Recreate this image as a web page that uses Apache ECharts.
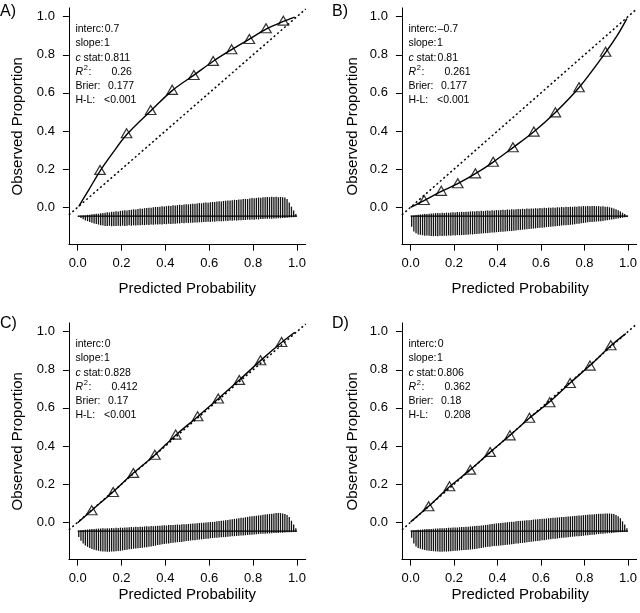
<!DOCTYPE html>
<html><head><meta charset="utf-8">
<script src="https://cdn.jsdelivr.net/npm/echarts@6/dist/echarts.min.js"></script>
<style>html,body{margin:0;padding:0;background:#fff}#c{width:640px;height:613px}</style>
</head><body><div id="c"></div>
<script>
// ---------------- DATA ----------------
const xTicks = [0, 0.2, 0.4, 0.6, 0.8, 1.0];
const yTicks = [0, 0.2, 0.4, 0.6, 0.8, 1.0];
const xTitle = 'Predicted Probability';
const yTitle = 'Observed Proportion';
const panelLetters = ['A)', 'B)', 'C)', 'D)'];
const statLabels = ['interc:', 'slope:', 'c stat:', 'R2:', 'Brier:', 'H-L:'];
const statsA = ['0.7', '1', '0.811', '0.26', '0.177', '<0.001'];
const statsB = ['\u20130.7', '1', '0.81', '0.261', '0.177', '<0.001'];
const statsC = ['0', '1', '0.828', '0.412', '0.17', '<0.001'];
const statsD = ['0', '1', '0.806', '0.362', '0.18', '0.208'];

// grouped observed proportions (triangles)
const groupA_x = [0.102, 0.223, 0.333, 0.431, 0.530, 0.618, 0.702, 0.783, 0.859, 0.938];
const groupA_y = [0.196, 0.388, 0.510, 0.616, 0.694, 0.768, 0.829, 0.883, 0.939, 0.979];
const groupB_x = [0.062, 0.141, 0.217, 0.298, 0.380, 0.471, 0.567, 0.666, 0.775, 0.897];
const groupB_y = [0.038, 0.086, 0.126, 0.178, 0.239, 0.315, 0.397, 0.498, 0.630, 0.816];
const groupC_x = [0.064, 0.162, 0.254, 0.352, 0.447, 0.547, 0.641, 0.737, 0.834, 0.930];
const groupC_y = [0.063, 0.159, 0.259, 0.354, 0.460, 0.556, 0.649, 0.747, 0.850, 0.946];
const groupD_x = [0.083, 0.179, 0.275, 0.366, 0.457, 0.547, 0.640, 0.734, 0.825, 0.921];
const groupD_y = [0.084, 0.189, 0.276, 0.369, 0.456, 0.548, 0.630, 0.731, 0.822, 0.929];

// smoothed (lowess) calibration curves
const curveA_x = [0.005, 0.05, 0.102, 0.16, 0.223, 0.333, 0.431, 0.530, 0.618, 0.702, 0.783, 0.859, 0.938, 0.99];
const curveA_y = [0.005, 0.09, 0.190, 0.285, 0.380, 0.505, 0.612, 0.693, 0.766, 0.827, 0.882, 0.935, 0.975, 0.998];
const curveB_x = [0.0, 0.062, 0.141, 0.217, 0.298, 0.380, 0.471, 0.567, 0.666, 0.775, 0.897, 0.95, 0.995];
const curveB_y = [0.0, 0.035, 0.083, 0.124, 0.176, 0.237, 0.313, 0.396, 0.497, 0.628, 0.812, 0.90, 0.990];
const curveC_x = [0.0, 0.064, 0.162, 0.254, 0.352, 0.447, 0.547, 0.641, 0.737, 0.834, 0.930, 0.99];
const curveC_y = [-0.003, 0.062, 0.160, 0.258, 0.353, 0.457, 0.554, 0.648, 0.746, 0.848, 0.943, 0.997];
const curveD_x = [0.0, 0.083, 0.179, 0.275, 0.366, 0.457, 0.547, 0.640, 0.734, 0.825, 0.921, 0.99];
const curveD_y = [0.002, 0.084, 0.186, 0.276, 0.368, 0.456, 0.547, 0.632, 0.731, 0.822, 0.926, 0.99];

// identity reference line
const diagX = [-0.04, 1.04];

// spike histogram of predicted risks (bins of width 0.01 from 0 to 1)
const binWidth = 0.01;
const spikeBase = -0.047;
const baselineX = [0, 1];
const spikeUpA = [0,.002,.004,.004,.007,.008,.010,.011,.013,.013, .016,.017,.018,.021,.020,.023,.024,.026,.025,.028,
 .029,.031,.030,.033,.034,.036,.035,.038,.040,.039, .042,.043,.045,.044,.047,.049,.048,.050,.052,.051,
 .053,.055,.054,.057,.056,.058,.060,.059,.061,.063, .062,.064,.066,.065,.067,.069,.068,.070,.072,.071,
 .073,.075,.074,.077,.078,.077,.080,.081,.083,.082, .084,.086,.085,.088,.087,.090,.091,.090,.093,.095,
 .094,.096,.098,.097,.099,.100,.101,.100,.102,.101, .102,.100,.101,.099,.098,.090,.072,.050,.030,.012];
const spikeDownA = [.004,.010,.016,.022,.026,.030,.034,.038,.041,.044, .047,.049,.051,.052,.050,.053,.051,.052,.050,.052,
 .049,.051,.050,.048,.050,.048,.049,.047,.048,.046, .047,.045,.046,.044,.045,.043,.044,.042,.043,.041,
 .042,.040,.041,.039,.040,.038,.038,.036,.037,.035, .036,.034,.035,.033,.033,.032,.032,.030,.031,.029,
 .030,.028,.029,.027,.027,.026,.026,.024,.025,.023, .024,.022,.023,.021,.021,.020,.020,.018,.019,.017,
 .018,.016,.017,.015,.015,.014,.014,.013,.013,.012, .012,.011,.011,.010,.009,.008,.007,.006,.005,.003];
const spikeUpB = [.002,.004,.006,.007,.009,.010,.011,.012,.013,.014, .015,.016,.017,.016,.018,.017,.019,.018,.020,.021,
 .020,.022,.021,.023,.022,.024,.023,.025,.026,.025, .027,.026,.028,.027,.029,.030,.029,.031,.030,.032,
 .031,.033,.034,.033,.035,.034,.036,.035,.037,.038, .037,.039,.038,.040,.039,.041,.040,.042,.041,.043,
 .042,.044,.043,.045,.044,.046,.045,.047,.046,.048, .047,.049,.048,.050,.049,.051,.050,.052,.051,.053,
 .052,.053,.052,.054,.053,.052,.053,.051,.052,.050, .049,.047,.044,.040,.036,.031,.025,.018,.011,.004];
const spikeDownB = [.055,.080,.090,.096,.098,.100,.102,.101,.103,.104, .105,.104,.105,.103,.104,.102,.103,.101,.102,.100,
 .101,.099,.100,.098,.099,.097,.097,.095,.096,.094, .093,.092,.091,.090,.089,.088,.087,.086,.085,.084,
 .083,.082,.081,.080,.079,.078,.077,.076,.075,.073, .072,.071,.070,.069,.067,.066,.065,.064,.062,.061,
 .060,.059,.057,.056,.055,.054,.053,.052,.051,.049, .048,.047,.046,.045,.044,.042,.040,.039,.037,.036,
 .034,.032,.031,.030,.029,.028,.027,.026,.025,.023, .021,.019,.017,.016,.014,.012,.010,.008,.006,.004];
const spikeUpC = [.003,.005,.006,.008,.009,.010,.011,.012,.013,.014, .014,.015,.014,.016,.015,.017,.016,.018,.017,.019,
 .018,.020,.019,.021,.022,.021,.023,.022,.024,.023, .025,.026,.025,.027,.026,.028,.029,.028,.030,.031,
 .030,.032,.033,.032,.034,.035,.034,.036,.037,.036, .038,.039,.040,.041,.042,.043,.044,.045,.046,.047,
 .048,.049,.050,.052,.053,.055,.056,.058,.059,.061, .063,.065,.066,.068,.070,.071,.073,.075,.077,.078,
 .080,.081,.083,.084,.086,.087,.089,.090,.092,.093, .095,.096,.095,.093,.090,.085,.075,.055,.035,.015];
const spikeDownC = [.030,.050,.065,.075,.082,.088,.093,.097,.100,.103, .105,.106,.107,.108,.108,.107,.106,.105,.104,.103,
 .101,.099,.097,.095,.094,.092,.091,.089,.088,.087, .085,.084,.082,.080,.078,.076,.073,.071,.069,.067,
 .065,.064,.062,.061,.059,.058,.057,.056,.054,.052, .051,.049,.048,.047,.045,.044,.043,.041,.040,.039,
 .037,.036,.035,.034,.033,.032,.031,.030,.029,.028, .027,.026,.025,.024,.023,.022,.021,.020,.019,.018,
 .017,.016,.015,.014,.014,.013,.012,.012,.011,.010, .010,.009,.008,.008,.007,.006,.006,.005,.004,.003];
const spikeUpD = [.004,.005,.006,.007,.008,.009,.010,.011,.012,.012, .013,.014,.014,.015,.016,.016,.017,.018,.018,.019,
 .020,.020,.021,.022,.022,.023,.024,.025,.026,.027, .028,.029,.030,.031,.033,.034,.036,.038,.039,.041,
 .042,.043,.044,.046,.047,.048,.049,.050,.052,.053, .054,.055,.056,.057,.058,.059,.061,.062,.063,.064,
 .065,.066,.067,.068,.069,.070,.071,.072,.073,.074, .075,.076,.077,.078,.079,.080,.081,.082,.083,.084,
 .085,.086,.087,.088,.089,.090,.091,.091,.092,.093, .093,.093,.092,.090,.085,.078,.068,.052,.035,.015];
const spikeDownD = [.035,.065,.080,.088,.092,.096,.099,.101,.103,.104, .105,.106,.107,.108,.108,.107,.107,.106,.105,.104,
 .103,.102,.101,.100,.099,.098,.097,.096,.095,.094, .092,.090,.088,.086,.084,.082,.081,.079,.078,.077,
 .076,.075,.074,.073,.071,.070,.068,.067,.065,.064, .062,.061,.060,.058,.057,.055,.054,.052,.051,.050,
 .048,.047,.045,.043,.042,.040,.039,.038,.036,.035, .034,.033,.032,.030,.029,.028,.027,.026,.025,.024,
 .022,.021,.020,.019,.018,.016,.015,.014,.013,.012, .011,.010,.009,.008,.007,.006,.005,.004,.003,.002];

// ---------------- LAYOUT / STYLE ----------------
const FONT = '"Liberation Sans", Arial, Helvetica, sans-serif';
const INK = '#000';
const W = 236.8, H = 236.7;
const XMIN = -0.04, XMAX = 1.04, YMIN = -0.196, YMAX = 1.046;
const pos = [
  {left: 68.9, top: 7.9}, {left: 401.9, top: 7.9},
  {left: 68.9, top: 322.9}, {left: 401.9, top: 322.9}
];
const letterPos = [[0, 12], [332, 12], [0, 323.5], [332, 323.5]];
const xTitleOffset = [44, 44, 35.5, 35.5];
const yTitleX = [18.3, 352.5, 18.3, 352.5];

const panels = [
  {stats: statsA, gx: groupA_x, gy: groupA_y, cx: curveA_x, cy: curveA_y, up: spikeUpA, down: spikeDownA},
  {stats: statsB, gx: groupB_x, gy: groupB_y, cx: curveB_x, cy: curveB_y, up: spikeUpB, down: spikeDownB},
  {stats: statsC, gx: groupC_x, gy: groupC_y, cx: curveC_x, cy: curveC_y, up: spikeUpC, down: spikeDownC},
  {stats: statsD, gx: groupD_x, gy: groupD_y, cx: curveD_x, cy: curveD_y, up: spikeUpD, down: spikeDownD}
];

const zip = (a, b) => a.map((v, i) => [v, b[i]]);

const grids = [], xAxes = [], yAxes = [], series = [], graphics = [];

panels.forEach((p, i) => {
  const g = pos[i];
  grids.push({left: g.left, top: g.top, width: W, height: H, containLabel: false});
  xAxes.push({
    type: 'value', gridIndex: i, min: XMIN, max: XMAX,
    axisLine: {show: true, onZero: false, lineStyle: {color: INK, width: 1}},
    axisTick: {show: true, length: 6, customValues: xTicks, lineStyle: {color: INK, width: 1}},
    axisLabel: {customValues: xTicks, formatter: v => Number(v).toFixed(1), margin: 12,
      fontSize: 13, fontFamily: FONT, color: INK},
    splitLine: {show: false}
  });
  yAxes.push({
    type: 'value', gridIndex: i, min: YMIN, max: YMAX,
    axisLine: {show: true, onZero: false, lineStyle: {color: INK, width: 1}},
    axisTick: {show: true, length: 6, customValues: yTicks, lineStyle: {color: INK, width: 1}},
    axisLabel: {customValues: yTicks, formatter: v => Number(v).toFixed(1), margin: 14,
      fontSize: 13, fontFamily: FONT, color: INK},
    splitLine: {show: false}
  });

  // identity line
  series.push({
    type: 'line', xAxisIndex: i, yAxisIndex: i, silent: true, symbol: 'none',
    data: diagX.map(v => [v, v]),
    lineStyle: {color: INK, width: 1.5, type: [2, 2.6]}, z: 2
  });
  // spike histogram
  const spikeData = p.up.map((u, j) => [(j + 0.5) * binWidth, u, p.down[j]]);
  series.push({
    type: 'custom', xAxisIndex: i, yAxisIndex: i, silent: true,
    data: spikeData, encode: {x: 0, y: 1},
    renderItem: function (params, api) {
      const x = api.value(0), u = api.value(1), d = api.value(2);
      const p1 = api.coord([x, spikeBase + u]);
      const p2 = api.coord([x, spikeBase - d]);
      return {type: 'line', shape: {x1: p1[0], y1: p1[1], x2: p1[0], y2: p2[1]},
        style: {stroke: '#111', lineWidth: 1.3}};
    }, z: 3
  });
  // baseline of histogram
  series.push({
    type: 'line', xAxisIndex: i, yAxisIndex: i, silent: true, symbol: 'none',
    data: baselineX.map(v => [v, spikeBase]),
    lineStyle: {color: INK, width: 1.3}, z: 4
  });
  // smooth calibration curve
  series.push({
    type: 'line', xAxisIndex: i, yAxisIndex: i, silent: true, symbol: 'none',
    smooth: 0.35, data: zip(p.cx, p.cy),
    lineStyle: {color: INK, width: 1.4}, z: 5
  });
  // grouped proportions
  series.push({
    type: 'scatter', xAxisIndex: i, yAxisIndex: i, silent: true,
    symbol: 'triangle', symbolSize: [10.5, 9],
    data: zip(p.gx, p.gy),
    itemStyle: {color: 'rgba(255,255,255,0)', borderColor: INK, borderWidth: 1.2}, z: 6
  });

  // panel letter
  graphics.push({type: 'text', x: letterPos[i][0], y: letterPos[i][1],
    style: {text: panelLetters[i], fontSize: 16, fontFamily: FONT, fill: INK, align: 'left', verticalAlign: 'middle'}});
  // axis titles
  graphics.push({type: 'text', x: g.left + W / 2, y: g.top + H + xTitleOffset[i],
    style: {text: xTitle, fontSize: 15, fontFamily: FONT, fill: INK, align: 'center', verticalAlign: 'middle'}});
  graphics.push({type: 'text', x: yTitleX[i], y: g.top + H / 2, rotation: Math.PI / 2,
    style: {text: yTitle, fontSize: 15, fontFamily: FONT, fill: INK, align: 'center', verticalAlign: 'middle'}});

  // statistics block
  const x0 = g.left + 6.5;
  const rowY = k => g.top + 21.5 + k * 14.2;
  const valOff = [29.3, 28.6, 29.2, 36, 32.5, 28.6];
  statLabels.forEach((lab, k) => {
    const y = rowY(k);
    const base = {fontSize: 10.5, fontFamily: FONT, fill: INK, align: 'left', verticalAlign: 'middle'};
    if (k === 2) {
      graphics.push({type: 'text', x: x0, y: y, style: Object.assign({}, base, {text: 'c', fontStyle: 'italic'})});
      graphics.push({type: 'text', x: x0 + 5.3, y: y, style: Object.assign({}, base, {text: ' stat:'})});
    } else if (k === 3) {
      graphics.push({type: 'text', x: x0, y: y, style: Object.assign({}, base, {text: 'R', fontStyle: 'italic'})});
      graphics.push({type: 'text', x: x0 + 8.3, y: y - 4.2, style: Object.assign({}, base, {text: '2', fontSize: 7.5})});
      graphics.push({type: 'text', x: x0 + 13, y: y, style: Object.assign({}, base, {text: ':'})});
    } else {
      graphics.push({type: 'text', x: x0, y: y, style: Object.assign({}, base, {text: lab})});
    }
    let off = valOff[k];
    if (k === 5 && p.stats[k].charAt(0) !== '<') off = 36;
    graphics.push({type: 'text', x: x0 + off, y: y, style: Object.assign({}, base, {text: p.stats[k]})});
  });
});

const chart = echarts.init(document.getElementById('c'), null, {renderer: 'canvas'});
chart.setOption({
  animation: false,
  backgroundColor: '#fff',
  grid: grids, xAxis: xAxes, yAxis: yAxes, series: series,
  graphic: graphics
});
</script>
</body></html>
